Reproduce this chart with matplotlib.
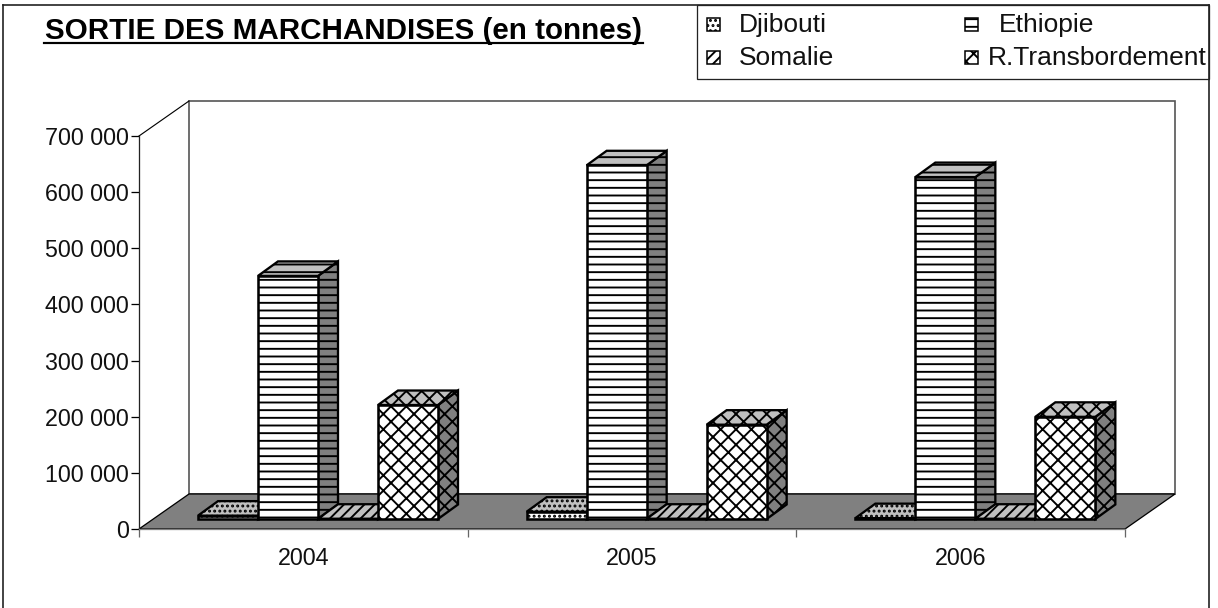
import matplotlib
matplotlib.use('Agg')
import matplotlib.pyplot as plt
from matplotlib.patches import Polygon, Rectangle
from matplotlib.lines import Line2D

# Data (tonnes)
years = ['2004', '2005', '2006']
djibouti = [6000, 13000, 1500]
ethiopie = [433000, 630000, 609000]
somalie = [500, 500, 500]
transbordement = [203000, 168000, 182000]
series_names = ['Djibouti', 'Ethiopie', 'Somalie', 'R.Transbordement']
y_ticks = [0, 100000, 200000, 300000, 400000, 500000, 600000, 700000]
y_labels = ['0', '100 000', '200 000', '300 000', '400 000', '500 000', '600 000', '700 000']

W, H = 1218, 608
DPI = 92

plt.rcParams['font.family'] = ['Liberation Sans', 'DejaVu Sans']
plt.rcParams['hatch.linewidth'] = 1.5

fig = plt.figure(figsize=((W + 0.01) / DPI, (H + 0.01) / DPI), dpi=DPI, facecolor='white')


def fx(x):
    return x / W


def fy(y):
    return 1 - y / H


# Plot front plane in pixels
left, right, top, bottom = 139, 1125, 136, 529
ax = fig.add_axes([fx(left), fy(bottom), fx(right - left), (bottom - top) / H])
ax.set_xlim(-0.5, 2.5)
ax.set_ylim(0, 700000)
ax.patch.set_alpha(0)

# pixel sizes in data units
px = 3 / (right - left)
py = 700000 / (bottom - top)

# Walls and floor
x_a, x_b = -0.5, 2.5
wall_dx, wall_dy = 50 * px, 35 * py
wall_top = 700000 + wall_dy
ax.add_patch(Polygon([(x_a + wall_dx, wall_dy), (x_b + wall_dx, wall_dy), (x_b + wall_dx, wall_top),
                      (x_a + wall_dx, wall_top)], facecolor='white', edgecolor='#555555', lw=1.3,
                     clip_on=False, zorder=1))
ax.add_line(Line2D([x_a, x_a + wall_dx], [700000, wall_top], color='black', lw=0.9, clip_on=False, zorder=1))
ax.add_patch(Polygon([(x_a, 0), (x_b, 0), (x_b + wall_dx, wall_dy), (x_a + wall_dx, wall_dy)],
                     facecolor='#808080', edgecolor='black', lw=1.0, clip_on=False, zorder=2))

# Bars
bar_w = 60 * px
start = -0.3205
base = 10 * py
depth_x, depth_y = 20 * px, 14.5 * py
hatches = ['...', '--', '///', 'xx']
values = [djibouti, ethiopie, somalie, transbordement]

z = 3
for i in range(len(years)):
    for s, vals in enumerate(values):
        x0 = i + start + s * bar_w
        x1 = x0 + bar_w
        y1 = base + vals[i]
        # side then top then front
        ax.add_patch(Polygon([(x1, base), (x1 + depth_x, base + depth_y), (x1 + depth_x, y1 + depth_y), (x1, y1)],
                             facecolor='#808080', edgecolor='black', hatch=hatches[s], lw=1.8,
                             clip_on=False, zorder=z))
        ax.add_patch(Polygon([(x0, y1), (x1, y1), (x1 + depth_x, y1 + depth_y), (x0 + depth_x, y1 + depth_y)],
                             facecolor='#c0c0c0', edgecolor='black', hatch=hatches[s], lw=1.8,
                             clip_on=False, zorder=z))
        ax.bar(x0, vals[i], width=bar_w, bottom=base, align='edge', facecolor='white', edgecolor='black',
               hatch=hatches[s], lw=2.0, clip_on=False, zorder=z)
        z += 1

# Axes
for side in ['top', 'right']:
    ax.spines[side].set_visible(False)
ax.spines['left'].set_linewidth(1.0)
ax.spines['left'].set_color('#222222')
ax.spines['bottom'].set_linewidth(1.0)
ax.spines['bottom'].set_color('#808080')
ax.set_yticks(y_ticks)
ax.set_yticklabels(y_labels, fontsize=18.2, color='#111111')
ax.tick_params(axis='y', length=6, width=1.0, pad=2)
ax.set_xticks([-0.5, 0.5, 1.5, 2.5])
ax.set_xticklabels([])
ax.tick_params(axis='x', which='major', length=6, width=1.0, color='#666666')
ax.set_xticks([0, 1, 2], minor=True)
ax.set_xticklabels(years, minor=True, fontsize=18.2, color='#111111')
ax.tick_params(axis='x', which='minor', length=0, pad=14)

# Chart frame (open at the bottom)
frame_r = 1209
for xs, ys in [([3, 3], [608, 5]), ([3, frame_r], [5, 5]), ([frame_r, frame_r], [5, 608])]:
    fig.add_artist(Line2D([fx(v) for v in xs], [fy(v) for v in ys], color='#222222', lw=1.3,
                          transform=fig.transFigure))

# Title
fig.text(fx(45), fy(39), 'SORTIE DES MARCHANDISES (en tonnes)', fontsize=23.2, fontweight='bold',
         ha='left', va='baseline', color='black')
fig.add_artist(Line2D([fx(44), fx(643)], [fy(43), fy(43)], color='black', lw=1.7, transform=fig.transFigure))

# Legend box
fig.add_artist(Rectangle((fx(697), fy(79)), fx(frame_r - 697), (79 - 5) / H, facecolor='white',
                         edgecolor='#222222', lw=1.0, transform=fig.transFigure))
marker_x = [707, 965, 707, 965]
text_x = [739, 999, 739, 988]
row_y = [24, 24, 57, 57]
for s, name in enumerate(series_names):
    fig.add_artist(Rectangle((fx(marker_x[s]), fy(row_y[s] + 7)), fx(13), 13 / H, facecolor='white',
                             edgecolor='black', hatch=hatches[s], lw=1.2, transform=fig.transFigure))
    fig.text(fx(text_x[s]), fy(row_y[s] + 8), name, fontsize=20.6, ha='left', va='baseline', color='#111111')

fig.savefig('out.png', dpi=DPI, facecolor='white')
